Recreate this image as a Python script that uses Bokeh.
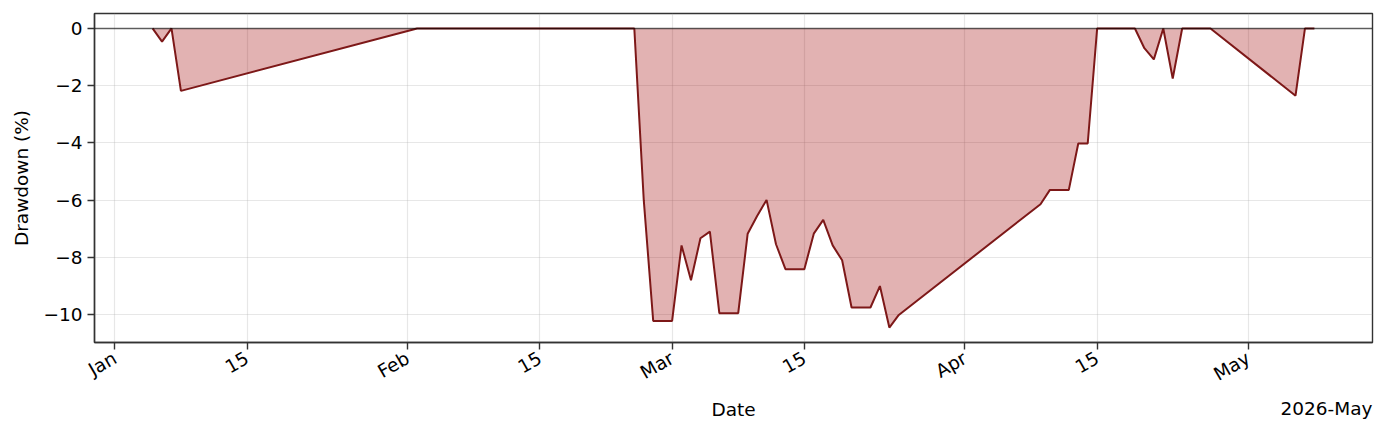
import math
import pandas as pd
from bokeh.plotting import figure
from bokeh.models import FixedTicker, Span, Title, Range1d, ColumnDataSource
from bokeh.embed import file_html
from bokeh.resources import INLINE

# ---- data ----
dates = [
    "2026-01-05", "2026-01-06", "2026-01-07", "2026-01-08",
    "2026-02-02", "2026-02-25", "2026-02-26", "2026-02-27", "2026-02-28", "2026-03-01",
    "2026-03-02", "2026-03-03", "2026-03-04", "2026-03-05", "2026-03-06", "2026-03-07",
    "2026-03-08", "2026-03-09", "2026-03-10", "2026-03-11", "2026-03-12", "2026-03-13",
    "2026-03-14", "2026-03-15", "2026-03-16", "2026-03-17", "2026-03-18", "2026-03-19",
    "2026-03-20", "2026-03-21", "2026-03-22", "2026-03-23", "2026-03-24", "2026-03-25",
    "2026-04-09", "2026-04-10", "2026-04-11", "2026-04-12", "2026-04-13", "2026-04-14",
    "2026-04-15", "2026-04-19", "2026-04-20", "2026-04-21", "2026-04-22", "2026-04-23",
    "2026-04-24", "2026-04-27", "2026-05-06", "2026-05-07", "2026-05-08",
]
drawdown = [
    0.0, -0.46, 0.0, -2.18,
    0.0, 0.0, -6.0, -10.22, -10.22, -10.22,
    -7.58, -8.80, -7.33, -7.10, -9.95, -9.95,
    -9.95, -7.17, -6.55, -5.99, -7.54, -8.41,
    -8.41, -8.41, -7.17, -6.69, -7.58, -8.10,
    -9.75, -9.75, -9.75, -9.00, -10.45, -10.01,
    -6.14, -5.64, -5.64, -5.64, -4.02, -4.02,
    0.0, 0.0, -0.69, -1.08, 0.0, -1.75,
    0.0, 0.0, -2.35, 0.0, 0.0,
]
tick_dates = ["2026-01-01", "2026-01-15", "2026-02-01", "2026-02-15", "2026-03-01",
              "2026-03-15", "2026-04-01", "2026-04-15", "2026-05-01"]
tick_labels = ["Jan", "15", "Feb", "15", "Mar", "15", "Apr", "15", "May"]
y_ticks = [0, -2, -4, -6, -8, -10]
y_tick_labels = ["0", "\u22122", "\u22124", "\u22126", "\u22128", "\u221210"]
x_title = "Date"
y_title = "Drawdown (%)"
offset_text = "2026-May"

FONT = "DejaVu Sans"
FS = "18.5px"

x = pd.to_datetime(dates)
src = ColumnDataSource(dict(x=x, y=drawdown, zero=[0.0] * len(drawdown)))

def ms(d):
    return pd.Timestamp(d).value / 1e6

xmin, xmax = ms(dates[0]), ms(dates[-1])
xpad = 0.05 * (xmax - xmin)
ymin, ymax = min(drawdown), max(drawdown)
ypad = 0.05 * (ymax - ymin)

p = figure(width=1377, height=425, x_axis_type="datetime",
           output_backend="svg", toolbar_location=None,
           x_range=Range1d(xmin - xpad, xmax + xpad),
           y_range=Range1d(ymin - ypad, ymax + ypad),
           min_border_left=94, min_border_right=5,
           min_border_top=13, min_border_bottom=83)
p.background_fill_color = "white"
p.border_fill_color = "white"
p.outline_line_color = "#333333"
p.outline_line_width = 1.4

p.varea(x="x", y1="zero", y2="y", source=src, fill_color="#a00000", fill_alpha=0.3)
p.line(x="x", y="y", source=src, line_color="#7d1818", line_width=2.0)

zero = Span(location=0, dimension="width", line_color="black", line_alpha=0.6, line_width=1.5)
p.add_layout(zero)

tick_ms = [ms(d) for d in tick_dates]
p.xaxis.ticker = FixedTicker(ticks=tick_ms)
p.xaxis.major_label_overrides = {t: l for t, l in zip(tick_ms, tick_labels)}
p.xaxis.major_label_orientation = math.pi / 6
p.yaxis.ticker = FixedTicker(ticks=y_ticks)
p.yaxis.major_label_overrides = {t: l for t, l in zip(y_ticks, y_tick_labels)}

for ax in (p.xaxis[0], p.yaxis[0]):
    ax.axis_line_color = "#333333"
    ax.axis_line_width = 1.4
    ax.major_tick_line_color = "#333333"
    ax.major_tick_line_width = 1.4
    ax.major_tick_out = 7
    ax.major_tick_in = 0
    ax.minor_tick_line_color = None
    ax.major_label_text_font = FONT
    ax.major_label_text_font_size = FS
    ax.major_label_text_color = "black"
    ax.axis_label_text_font = FONT
    ax.axis_label_text_font_size = FS
    ax.axis_label_text_font_style = "normal"
    ax.axis_label_text_color = "black"

# blank x-axis label used only as a spacer so that the two texts below share one line
p.xaxis.axis_label = " "
p.yaxis.axis_label = y_title
p.xaxis.major_label_standoff = 7
p.yaxis.major_label_standoff = 5
p.xaxis.axis_label_standoff = -14
p.yaxis.axis_label_standoff = 8

for g in (p.xgrid[0], p.ygrid[0]):
    g.grid_line_color = "#b0b0b0"
    g.grid_line_alpha = 0.3
    g.grid_line_width = 1.2

off = Title(text=offset_text, align="right", standoff=-24, vertical_align="bottom",
            text_font=FONT, text_font_size=FS, text_font_style="normal",
            text_color="black")
p.add_layout(off, "below")
xt = Title(text=x_title, align="center", standoff=-20, vertical_align="bottom",
           text_font=FONT, text_font_size=FS, text_font_style="normal",
           text_color="black")
p.add_layout(xt, "below")

open("out.html", "w").write(file_html(p, INLINE))
